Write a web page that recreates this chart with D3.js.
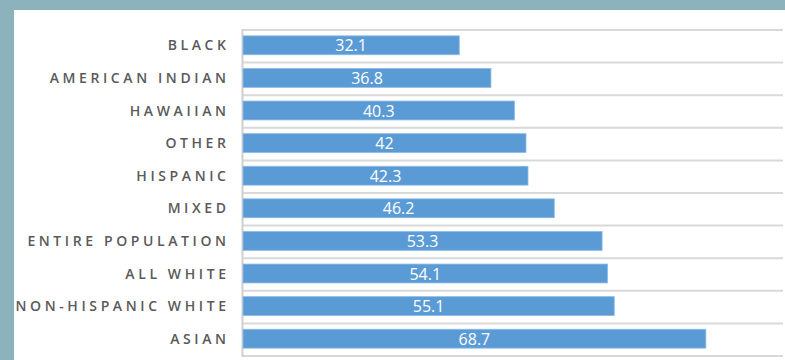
<!DOCTYPE html>
<html>
<head>
<meta charset="utf-8">
<script src="https://cdn.jsdelivr.net/npm/d3@7"></script>
<style>
  html, body { margin: 0; padding: 0; background: #8cb2bc; }
  svg { display: block; }
</style>
</head>
<body>
<script>
// Median age by group
const categories = ["BLACK", "AMERICAN INDIAN", "HAWAIIAN", "OTHER", "HISPANIC", "MIXED",
  "ENTIRE POPULATION", "ALL WHITE", "NON-HISPANIC WHITE", "ASIAN"];
const values = [32.1, 36.8, 40.3, 42, 42.3, 46.2, 53.3, 54.1, 55.1, 68.7];
const valueLabels = ["32.1", "36.8", "40.3", "42", "42.3", "46.2", "53.3", "54.1", "55.1", "68.7"];

const W = 785, H = 360;
const svg = d3.select("body").append("svg").attr("width", W).attr("height", H);

// frame and white panel
svg.append("rect").attr("width", W).attr("height", H).attr("fill", "#8cb2bc");
svg.append("rect").attr("x", 14).attr("y", 10).attr("width", W - 14).attr("height", H - 10).attr("fill", "#ffffff");

const x = d3.scaleLinear().domain([0, 80]).range([243, 782]);
const y = d3.scaleBand().domain(categories).range([30, 356]).paddingInner(0.42).paddingOuter(0.21);

// horizontal gridlines at band boundaries
const boundaries = d3.range(categories.length + 1).map(i => 30 + i * (326 / categories.length));
svg.append("g").selectAll("line").data(boundaries).join("line")
  .attr("x1", 242).attr("x2", 783)
  .attr("y1", d => d).attr("y2", d => d)
  .attr("stroke", "#d9d9d9").attr("stroke-width", 2);

// category axis line
svg.append("line").attr("x1", 242.5).attr("x2", 242.5).attr("y1", 29).attr("y2", 357)
  .attr("stroke", "#d0d0d0").attr("stroke-width", 2);

// bars
svg.append("g").selectAll("rect").data(values).join("rect")
  .attr("x", x(0))
  .attr("y", (d, i) => y(categories[i]) - 1)
  .attr("width", d => x(d) - x(0))
  .attr("height", y.bandwidth())
  .attr("fill", "#5b9bd5")
  .attr("stroke", "#8dbbe6").attr("stroke-width", 0.8);

// value labels
svg.append("g").selectAll("text").data(values).join("text")
  .attr("x", d => (x(0) + x(d)) / 2)
  .attr("y", (d, i) => y(categories[i]) - 1 + y.bandwidth() / 2 + 6)
  .attr("text-anchor", "middle")
  .attr("font-family", "'Open Sans', sans-serif")
  .attr("font-size", 16)
  .attr("fill", "#ffffff")
  .text((d, i) => valueLabels[i]);

// category labels, spaced capitals
const ls = 3.6;
svg.append("g").selectAll("text").data(categories).join("text")
  .attr("x", 226 + ls)
  .attr("y", d => y(d) - 1 + y.bandwidth() / 2 + 5)
  .attr("text-anchor", "end")
  .attr("font-family", "'Open Sans', sans-serif")
  .attr("font-size", 14)
  .attr("font-weight", 600)
  .attr("letter-spacing", ls)
  .attr("fill", "#5a5a5a")
  .text(d => d);
</script>
</body>
</html>
